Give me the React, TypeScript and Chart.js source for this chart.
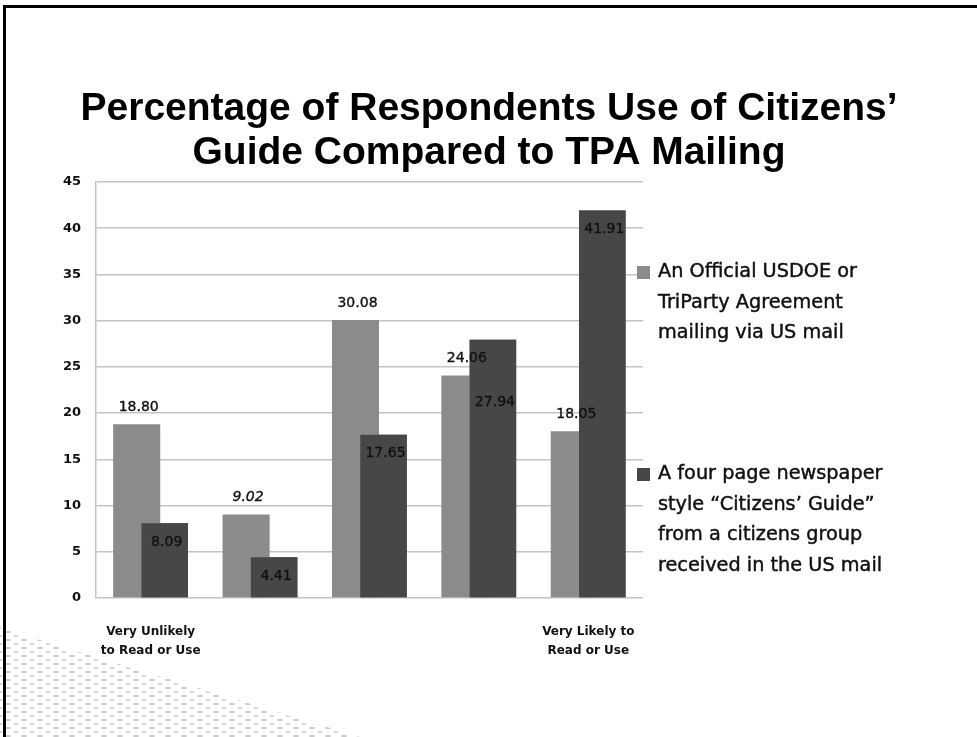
import React, { useEffect, useRef } from "react";
import { Chart, registerables } from "chart.js";

Chart.register(...registerables);

// ---- Data ----
const categories: string[][] = [
  ["Very Unlikely", "to Read or Use"],
  [""],
  [""],
  [""],
  ["Very Likely to", "Read or Use"],
];
const officialValues: number[] = [18.8, 9.02, 30.08, 24.06, 18.05];
const guideValues: number[] = [8.09, 4.41, 17.65, 27.94, 41.91];
const officialLegend: string[] = ["An Official USDOE or", "TriParty Agreement", "mailing via US mail"];
const guideLegend: string[] = [
  "A four page newspaper",
  "style “Citizens’ Guide”",
  "from a citizens group",
  "received in the US mail",
];
const titleLines: string[] = ["Percentage of Respondents Use of Citizens’", "Guide Compared to TPA Mailing"];
const Y_MIN = 0;
const Y_MAX = 45;
const Y_STEP = 5;

// label placement tweaks (pixels), not data
const guideLabelDrop: number[] = [0, 0, 0, 44, 0];
const officialItalic: boolean[] = [false, true, false, false, false];

const LIGHT = "#8b8b8b";
const DARK = "#474747";

const titlePlugin = {
  id: "slideTitle",
  afterDraw(chart: any) {
    const ctx = chart.ctx;
    ctx.save();
    ctx.fillStyle = "#000";
    ctx.font = 'bold 39px "Liberation Sans", Arial, sans-serif';
    ctx.textAlign = "center";
    ctx.textBaseline = "alphabetic";
    ctx.fillText(titleLines[0], 489, 120);
    ctx.fillText(titleLines[1], 489, 164);
    ctx.restore();
  },
};

const valueLabelPlugin = {
  id: "valueLabels",
  afterDatasetsDraw(chart: any) {
    const ctx = chart.ctx;
    // the second series is painted over the first one, as in the original
    const front = chart.getDatasetMeta(1);
    front.data.forEach((el: any) => el.draw(ctx));

    ctx.save();
    ctx.fillStyle = "#111";
    ctx.strokeStyle = "#111";
    ctx.lineWidth = 0.35;
    ctx.textAlign = "center";
    ctx.textBaseline = "middle";
    chart.data.datasets.forEach((ds: any, di: number) => {
      const meta = chart.getDatasetMeta(di);
      meta.data.forEach((bar: any, i: number) => {
        const v = ds.data[i] as number;
        const italic = di === 0 && officialItalic[i];
        ctx.font = `${italic ? "italic " : ""}14px "DejaVu Sans", sans-serif`;
        const y = di === 0 ? bar.y - 17 : bar.y + 19 + guideLabelDrop[i];
        const t = v.toFixed(2);
        ctx.fillText(t, bar.x + 2, y);
        ctx.strokeText(t, bar.x + 2, y);
      });
    });
    ctx.restore();
  },
};

const legendPlugin = {
  id: "sideLegend",
  afterDraw(chart: any) {
    const ctx = chart.ctx;
    const items = [
      { lines: officialLegend, color: LIGHT, y: 272 },
      { lines: guideLegend, color: DARK, y: 474 },
    ];
    ctx.save();
    ctx.font = '19.3px "DejaVu Sans", sans-serif';
    ctx.textAlign = "left";
    ctx.textBaseline = "middle";
    ctx.strokeStyle = "#111";
    ctx.lineWidth = 0.45;
    items.forEach((it) => {
      ctx.fillStyle = it.color;
      ctx.fillRect(637, it.y - 6, 13, 13);
      ctx.fillStyle = "#111";
      it.lines.forEach((ln, k) => {
        ctx.fillText(ln, 658, it.y + k * 30.7);
        ctx.strokeText(ln, 658, it.y + k * 30.7);
      });
    });
    ctx.restore();
  },
};

export default function App() {
  const ref = useRef<HTMLCanvasElement | null>(null);

  useEffect(() => {
    document.body.style.margin = "0";
    document.body.style.overflow = "hidden";
    if (!ref.current) return;
    const chart = new Chart(ref.current, {
      type: "bar",
      data: {
        labels: categories,
        datasets: [
          {
            label: officialLegend.join(" "),
            data: officialValues,
            backgroundColor: LIGHT,
            categoryPercentage: 0.512,
            barPercentage: 1.68,
          },
          {
            label: guideLegend.join(" "),
            data: guideValues,
            backgroundColor: DARK,
            categoryPercentage: 0.512,
            barPercentage: 1.66,
          },
        ],
      },
      options: {
        animation: false,
        responsive: true,
        maintainAspectRatio: false,
        layout: { padding: { left: 0, right: 334, top: 182, bottom: 69 } },
        plugins: {
          legend: { display: false },
          title: { display: false },
          tooltip: { enabled: false },
        },
        scales: {
          x: {
            afterFit: (s: any) => {
              s.height = 70;
            },
            grid: { display: false, drawTicks: false },
            border: { display: false },
            ticks: {
              padding: 24,
              color: "#111",
              maxRotation: 0,
              autoSkip: false,
              font: { family: "DejaVu Sans", weight: "bold", size: 12, lineHeight: 1.6 },
            },
          },
          y: {
            min: Y_MIN,
            max: Y_MAX,
            afterFit: (s: any) => {
              s.width = 96;
            },
            grid: { color: "#c4c4c4", lineWidth: 1.5, drawTicks: false },
            border: { display: true, color: "#c4c4c4", width: 1.5 },
            ticks: {
              stepSize: Y_STEP,
              padding: 15,
              color: "#111",
              font: { family: "DejaVu Sans", weight: "bold", size: 13 },
            },
          },
        },
      },
      plugins: [titlePlugin, valueLabelPlugin, legendPlugin],
    } as any);
    return () => chart.destroy();
  }, []);

  return (
    <div style={{ position: "relative", width: 977, height: 737, background: "#fff", overflow: "hidden" }}>
      <div
        style={{
          position: "absolute",
          left: 0,
          top: 628,
          width: 360,
          height: 109,
          clipPath: "polygon(0 0, 100% 100%, 0 100%)",
          backgroundImage:
            "radial-gradient(ellipse 4px 1.5px, #c8c8c8 45%, transparent 100%), radial-gradient(ellipse 3px 1.5px, #d4d4d4 45%, transparent 100%)",
          backgroundSize: "16px 8px, 16px 8px",
          backgroundPosition: "0 0, 8px 4px",
        }}
      />
      <canvas ref={ref} style={{ position: "absolute", left: 0, top: 0, width: 977, height: 737 }} />
      <div
        style={{
          position: "absolute",
          left: 3,
          top: 5,
          right: 0,
          bottom: 0,
          borderTop: "3px solid #000",
          borderLeft: "3px solid #000",
          pointerEvents: "none",
        }}
      />
    </div>
  );
}
